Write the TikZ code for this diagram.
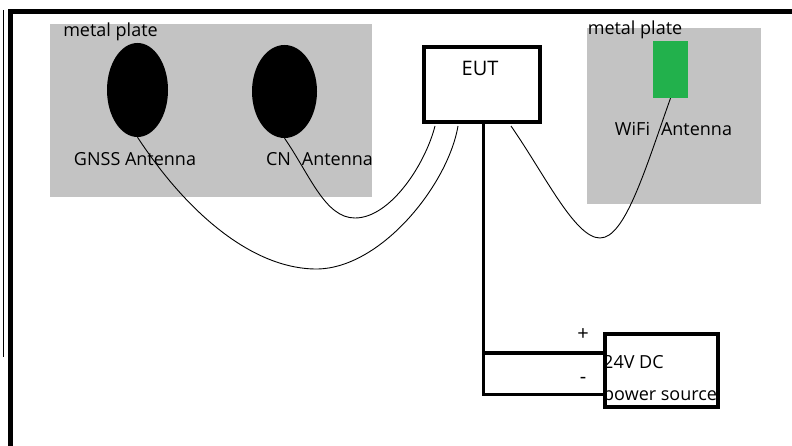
\documentclass[tikz,border=0pt]{standalone}
\usepackage{fontspec}
\setmainfont{Open Sans}
\usetikzlibrary{shapes.geometric,calc}
\definecolor{plategray}{HTML}{C3C3C3}
\definecolor{antgreen}{HTML}{22B14C}
\begin{document}
\begin{tikzpicture}[x=1pt,y=-1pt,
  lbl/.style={inner sep=0pt, anchor=base, font=\fontsize{18}{21}\selectfont},
  plate/.style={fill=plategray, draw=none},
  patch/.style={ellipse, fill=black, inner sep=0pt},
  thickbox/.style={draw=black, line width=4pt, fill=white, inner sep=0pt},
  wire/.style={draw=black, line width=0.9pt},
  pwr/.style={draw=black, line width=3.6pt}]
\useasboundingbox (0,0) rectangle (792,446);
% frame
\draw[line width=5pt] (10,446) -- (10,11.5) -- (792,11.5);
\draw[line width=1pt] (3.5,10) -- (3.5,357);
% plates
\fill[plate] (50,24) rectangle (372,197);
\fill[plate] (587,28) rectangle (761,204);
% antennas
\node[patch, minimum width=61pt, minimum height=94pt] (gnss) at (137.5,90) {};
\node[patch, minimum width=65pt, minimum height=93pt] (cn) at (284.5,91.5) {};
\node[fill=antgreen, inner sep=0pt, minimum width=35pt, minimum height=57pt] (wifi) at (670.5,69.5) {};
% EUT and power source
\node[thickbox, minimum width=116pt, minimum height=75pt] (eut) at (482,84.5) {};
\node[thickbox, minimum width=113pt, minimum height=73pt] (psu) at (661.5,370.5) {};
% labels
\node[lbl] (lplate) at (110.5,37) {metal plate};
\node[lbl] (rplate) at (635,35) {metal plate};
\node[lbl] (lgnss) at (135,166) {GNSS Antenna};
\node[lbl] (lcn) at (319.5,166) {CN\hspace{0.35em} Antenna};
\node[lbl] (lwifi) at (673.5,136) {WiFi\hspace{0.35em} Antenna};
\node[lbl, font=\fontsize{20}{24}\selectfont] (leut) at (480,76) {EUT};
\node[lbl, font=\fontsize{20}{24}\selectfont] (lplus) at (583,340) {+};
\node[lbl, font=\fontsize{20}{24}\selectfont] (lminus) at (583,383) {-};
\node[lbl, anchor=base west] (l24) at (603,368) {24V DC};
\node[lbl, anchor=base west] (lps) at (603,400) {power source};
% wires
\draw[wire] (gnss.south) .. controls (185,210) and (250,268) .. (315,269)
  .. controls (380,270) and (448,185) .. ($(eut.south west)+(36,2)$);
\draw[wire] (cn.south) .. controls (310,175) and (325,218) .. (355,218)
  .. controls (390,218) and (425,165) .. ($(eut.south west)+(13,2)$);
\draw[wire] ($(eut.south west)+(89,2)$) .. controls (545,175) and (575,238) .. (600,238)
  .. controls (625,238) and (645,170) .. (wifi.south);
% power lines
\coordinate (ptop) at ($(eut.south)+(1.5,0)$);
\coordinate (yplus) at (0,352.7);
\coordinate (yminus) at (0,394.3);
\draw[pwr] (ptop) -- (ptop |- yminus) -- (psu.west |- yminus);
\draw[pwr] (ptop |- yplus) -- (psu.west |- yplus);
\end{tikzpicture}
\end{document}
